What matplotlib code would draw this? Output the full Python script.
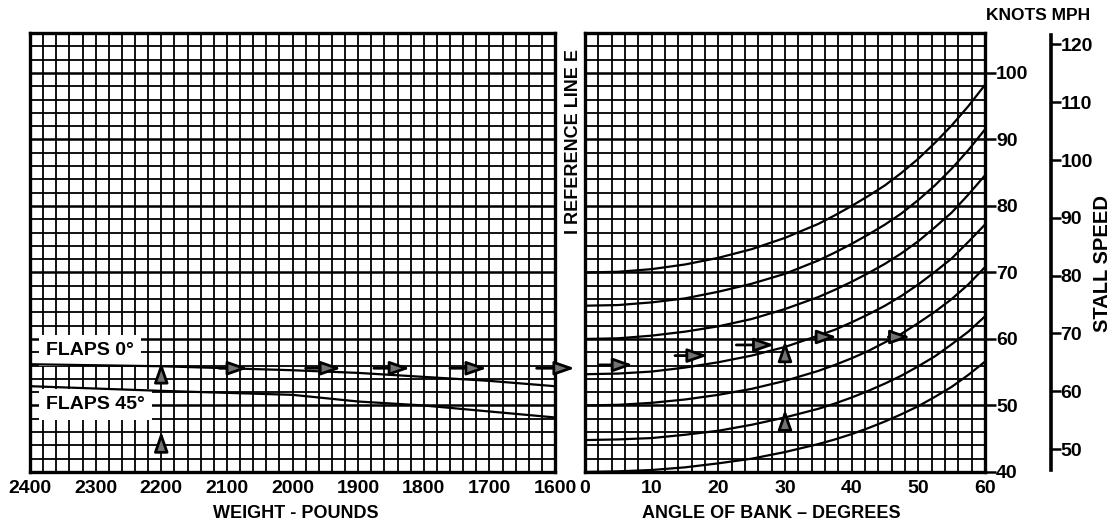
import numpy as np
import matplotlib.pyplot as plt

plt.rcParams['font.family'] = ['Liberation Sans', 'DejaVu Sans']
plt.rcParams['font.weight'] = 'bold'
plt.rcParams['axes.labelweight'] = 'bold'

# left panel: weight vs knots (reference line transfer)
weights = [2400, 2200, 2000, 1900, 1800, 1700, 1600]
flaps0_kt = [56.2, 55.9, 55.3, 54.9, 54.3, 53.7, 52.9]
flaps45_kt = [52.9, 52.2, 51.6, 50.6, 50.0, 49.1, 48.2]
weight_ticks = [2400, 2300, 2200, 2100, 2000, 1900, 1800, 1700, 1600]

# right panel: stall speed vs angle of bank
bank_deg = [0, 5, 10, 15, 20, 25, 30, 35, 37.5, 40, 42.5, 45, 47.5, 50, 52.5, 55, 57.5, 60]
curve_70 = [70.0, 70.1, 70.5, 71.2, 72.2, 73.5, 75.2, 77.3, 78.6, 80.0, 81.5, 83.1,
            85.0, 87.1, 89.5, 92.1, 95.0, 98.2]
curve_65 = [65.0, 65.1, 65.5, 66.1, 67.1, 68.3, 69.8, 71.8, 73.0, 74.3, 75.7, 77.2,
            78.9, 80.9, 83.1, 85.6, 88.4, 91.5]
curve_60 = [60.0, 60.1, 60.5, 61.1, 61.9, 63.0, 64.5, 66.3, 67.4, 68.6, 69.9, 71.3,
            72.9, 74.7, 76.8, 79.0, 81.7, 84.6]
curve_55 = [54.7, 54.8, 55.1, 55.7, 56.5, 57.5, 58.8, 60.5, 61.4, 62.5, 63.7, 65.0,
            66.5, 68.2, 70.1, 72.1, 74.6, 77.2]
curve_50 = [50.0, 50.1, 50.4, 50.9, 51.6, 52.5, 53.7, 55.2, 56.1, 57.1, 58.2, 59.5,
            60.8, 62.4, 64.1, 66.0, 68.2, 70.8]
curve_45 = [44.8, 44.9, 45.1, 45.6, 46.2, 47.1, 48.2, 49.5, 50.3, 51.2, 52.2, 53.3,
            54.5, 55.9, 57.4, 59.2, 61.1, 63.4]
curve_40 = [40.0, 40.1, 40.3, 40.7, 41.3, 42.0, 43.0, 44.2, 44.9, 45.7, 46.6, 47.6,
            48.7, 49.9, 51.3, 52.8, 54.6, 56.6]
curves = [curve_70, curve_65, curve_60, curve_55, curve_50, curve_45, curve_40]
bank_ticks = [0, 10, 20, 30, 40, 50, 60]

knots_ticks = [40, 50, 60, 70, 80, 90, 100]
mph_ticks = [50, 60, 70, 80, 90, 100, 110, 120]

# example path arrows
left_arrows_h = [(2112, 2068), (1980, 1926), (1876, 1821), (1760, 1704), (1628, 1570)]
left_arrow_h_kt = 55.6
left_arrows_v = [(53.4, 56.5), (43.5, 46.1)]
left_arrow_v_wt = 2200
right_arrows_h = [(2.2, 7.2, 56.1), (13.5, 18.4, 57.5), (22.7, 28.4, 59.1),
                  (34.5, 37.8, 60.3), (45.5, 48.8, 60.3)]
right_arrows_v = [(57.4, 59.7), (47.1, 49.4)]
right_arrow_v_deg = 30

W, H = 1113, 530
fig = plt.figure(figsize=(W / 100, H / 100), dpi=100)
bot = 58 / H
hgt = 439 / H
ax1 = fig.add_axes([30 / W, bot, 525 / W, hgt])
ax2 = fig.add_axes([585 / W, bot, 400 / W, hgt])
ax3 = fig.add_axes([1050 / W, bot, 0.0005, hgt])

ymin, ymax = 40, 106

def setup_grid(ax, xmin, xmax, xstep):
	ax.set_ylim(ymin, ymax)
	ax.set_xticks(np.arange(min(xmin, xmax), max(xmin, xmax) + 0.1, xstep), minor=True)
	ax.set_yticks(np.arange(ymin, ymax + 0.1, 2), minor=True)
	ax.grid(which='minor', color='black', lw=1.3)
	ax.grid(which='major', axis='y', color='black', lw=1.8)
	ax.grid(which='major', axis='x', color='black', lw=1.3)
	ax.tick_params(which='minor', length=0)
	ax.tick_params(axis='x', which='major', length=0, labelsize=14, pad=6)
	for sp in ax.spines.values():
		sp.set_linewidth(2.4)
	ax.set_axisbelow(True)

# left panel
ax1.set_xlim(2400, 1600)
ax1.set_xticks(weight_ticks)
ax1.set_xticklabels([str(w) for w in weight_ticks])
ax1.set_yticks(knots_ticks)
ax1.set_yticklabels([])
ax1.tick_params(axis='y', length=0)
setup_grid(ax1, 2400, 1600, 20)
ax1.plot(weights, flaps0_kt, color='black', lw=1.6, zorder=3)
ax1.plot(weights, flaps45_kt, color='black', lw=1.6, zorder=3)
ax1.text(2376, 58.3, 'FLAPS 0°', fontsize=14, va='center', ha='left', zorder=2,
	bbox=dict(fc='white', ec='none', pad=5))
ax1.text(2376, 50.1, 'FLAPS 45°', fontsize=14, va='center', ha='left', zorder=2,
	bbox=dict(fc='white', ec='none', pad=5))

aprops = dict(arrowstyle='-|>,head_length=1.2,head_width=0.42', lw=2.0,
	ec='black', fc='0.45', shrinkA=0, shrinkB=0)
for x0, x1 in left_arrows_h:
	ax1.annotate('', xy=(x1, left_arrow_h_kt), xytext=(x0, left_arrow_h_kt),
		arrowprops=aprops, annotation_clip=False, zorder=4)
for y0, y1 in left_arrows_v:
	ax1.annotate('', xy=(left_arrow_v_wt, y1), xytext=(left_arrow_v_wt, y0),
		arrowprops=aprops, annotation_clip=False, zorder=4)

# right panel
ax2.set_xlim(0, 60)
ax2.set_xticks(bank_ticks)
ax2.set_xticklabels([str(b) for b in bank_ticks])
setup_grid(ax2, 0, 60, 2)
ax2.yaxis.tick_right()
ax2.set_yticks(knots_ticks)
ax2.set_yticklabels([str(k) for k in knots_ticks])
ax2.tick_params(axis='y', which='major', length=8, width=1.8, labelsize=14, pad=0)
for c in curves:
	ax2.plot(bank_deg, c, color='black', lw=1.6)
for x0, x1, yk in right_arrows_h:
	ax2.annotate('', xy=(x1, yk), xytext=(x0, yk), arrowprops=aprops)
for y0, y1 in right_arrows_v:
	ax2.annotate('', xy=(right_arrow_v_deg, y1), xytext=(right_arrow_v_deg, y0),
		arrowprops=aprops)

# mph scale
ax3.set_ylim(ymin, ymax)
for k in ['left', 'top', 'bottom']:
	ax3.spines[k].set_visible(False)
ax3.spines['right'].set_linewidth(2.6)
ax3.spines['right'].set_bounds(40.3, 105.7)
ax3.set_xticks([])
ax3.yaxis.tick_right()
ax3.set_yticks([m / 1.1508 for m in mph_ticks])
ax3.set_yticklabels([str(m) for m in mph_ticks])
ax3.tick_params(axis='y', length=7, width=1.8, labelsize=14, pad=0)
ax3.patch.set_visible(False)

fig.text(296 / W, 1 - 514 / H, 'WEIGHT - POUNDS', fontsize=13, ha='center', va='center')
fig.text(771 / W, 1 - 514 / H, 'ANGLE OF BANK – DEGREES', fontsize=13, ha='center',
	va='center')
fig.text(1038 / W, 1 - 15 / H, 'KNOTS MPH', fontsize=12.5, ha='center', va='center')
fig.text(1103 / W, 1 - 263 / H, 'STALL SPEED', fontsize=14.5, ha='center', va='center',
	rotation=90)
fig.text(573 / W, 1 - 142 / H, 'I REFERENCE LINE E', fontsize=13, ha='center',
	va='center', rotation=90)

fig.savefig('out.png', dpi=100)
